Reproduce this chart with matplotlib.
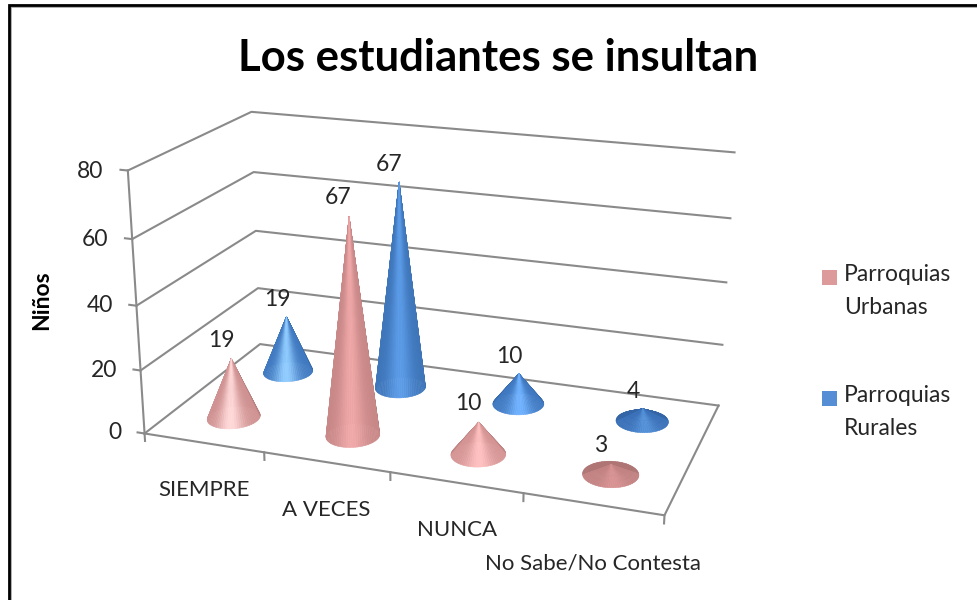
import numpy as np
import matplotlib
matplotlib.use('Agg')
import matplotlib.pyplot as plt
from matplotlib.colors import to_rgb
from matplotlib.patches import Rectangle
from mpl_toolkits.mplot3d import proj3d

plt.rcParams['font.family'] = ['Lato', 'DejaVu Sans']

# data
title = 'Los estudiantes se insultan'
ylabel = 'Niños'
categories = ['SIEMPRE', 'A VECES', 'NUNCA', 'No Sabe/No Contesta']
urbanas = [19, 67, 10, 3]
rurales = [19, 67, 10, 4]
yticks = [0, 20, 40, 60, 80]
series_names = ['Parroquias\nUrbanas', 'Parroquias\nRurales']

# camera, worked out against the corners of the reference
elev, azim, roll = 19.163, -70.341, -0.074
focal = 0.306
aspect = (1.944, 0.980, 1)
zoom = 0.649

fig = plt.figure(figsize=(9.78, 6.0), dpi=100)
ax = fig.add_axes([-64.514 / 978, 0.5 - 0.815 - 7.025 / 600, 1, 1.63], projection='3d', computed_zorder=False)
ax.set_xlim(0, 4, view_margin=0)
ax.set_ylim(0, 2, view_margin=0)
ax.set_zlim(0, 80, view_margin=0)
ax.set_xticks([])
ax.set_yticks([])
ax.set_zticks([])
ax.set_axis_off()
ax.patch.set_visible(False)
ax.view_init(elev, azim, roll)
ax.set_proj_type('persp', focal_length=focal)
ax.set_box_aspect(aspect, zoom=zoom)


def label3d(x, y, z, s, ha='center'):
    # flat text placed at a point of the 3d scene
    px, py, _ = proj3d.proj_transform(x, y, z, ax.get_proj())
    ax.annotate(s, (px, py), ha=ha, va='center', fontsize=16.5, color='#262626', zorder=5)


# walls and floor
grid = '#8a8a8a'
for v in yticks:
    ax.plot([0, 0, 4], [0, 2, 2], [v, v, v], color=grid, lw=1.5, zorder=1)
    ax.plot([-0.06, 0], [0, 0], [v, v], color=grid, lw=1.5, zorder=1)
    label3d(-0.2, 0, v - 1, str(v), ha='right')
ax.plot([0, 4, 4], [0, 0, 2], [0, 0, 0], color=grid, lw=1.5, zorder=1)
ax.plot([0, 0], [0, 0], [0, 80], color=grid, lw=1.5, zorder=1)
for i in range(5):
    ax.plot([i, i], [0, 0], [0, -2.4], color=grid, lw=1.5, zorder=1)


def cone(cx, cy, h, dark, light, zorder):
    # surface of one cone, lit from the front
    theta = np.linspace(0, 2 * np.pi, 73)
    frac = np.linspace(0, 1, 5)
    tt, ff = np.meshgrid(theta, frac)
    x = cx + 0.2 * (1 - ff) * np.cos(tt)
    y = cy + 0.22 * (1 - ff) * np.sin(tt)
    z = h * ff
    front = np.radians(azim)
    across = np.sin(tt - front)
    facing = np.cos(tt - front)
    glow = np.exp(-(across / 0.5) ** 2)
    rgb = np.array(to_rgb(dark)) + (np.array(to_rgb(light)) - np.array(to_rgb(dark))) * glow[..., None]
    rgb = np.where(facing[..., None] < 0, np.array(to_rgb(dark)) * 0.9, rgb)
    surf = ax.plot_surface(x, y, z, facecolors=rgb[:-1, :-1], shade=False, rstride=1, cstride=1,
                           linewidth=0.4, antialiased=True, zorder=zorder)
    surf.set_edgecolor(rgb[:-1, :-1].reshape(-1, 3))


pink_dark = ['#cf9090', '#c98888', '#d59494', '#c28282']
pink_light = ['#ffd8d8', '#f0a8a8', '#ffc0c0', '#d89292']
blue_dark = ['#3f78bf', '#3f76ba', '#3f78c0', '#3a70b8']
blue_light = ['#90ccff', '#5c9ce8', '#70b2ff', '#5390d8']

for i in range(4):
    cone(i + 0.5, 1.5, rurales[i], blue_dark[i], blue_light[i], 2)
    label3d(i + 0.42, 1.5, rurales[i] + 5.3, str(rurales[i]))
for i in range(4):
    cone(i + 0.5, 0.5, urbanas[i], pink_dark[i], pink_light[i], 3)
    label3d(i + 0.42, 0.5, urbanas[i] + 5.3, str(urbanas[i]))

# flat things in pixels: frame, title, labels, legend
ov = fig.add_axes([0, 0, 1, 1])
ov.set_xlim(0, 978)
ov.set_ylim(600, 0)
ov.axis('off')
ov.plot([11, 11, 978], [600, 6.5, 6.5], color='#a0a0a0', lw=1.2, solid_joinstyle='miter')
ov.plot([9, 9, 978], [600, 4.5, 4.5], color='black', lw=2.0, solid_joinstyle='miter')

ov.text(498, 58, title, ha='center', va='center', fontsize=31.5, fontweight='bold', color='black')
ov.text(42, 300, ylabel, ha='center', va='center', rotation=90, fontsize=16.5, fontweight='bold', color='black')

label_x = [204, 326, 457, 593]
label_y = [490, 510, 530, 563]
for name, lx, ly in zip(categories, label_x, label_y):
    ov.text(lx, ly, name, ha='center', va='center', fontsize=16, color='#262626')

legend_y = [270, 391]
legend_col = ['#dd9a9a', '#558ed5']
for name, ly, col in zip(series_names, legend_y, legend_col):
    ov.add_patch(Rectangle((822, ly), 15, 15, facecolor=col, edgecolor='none'))
    ov.text(844, ly - 6, name, ha='left', va='top', fontsize=16.5, color='#262626', linespacing=1.72)

fig.savefig('out.png', dpi=100)
